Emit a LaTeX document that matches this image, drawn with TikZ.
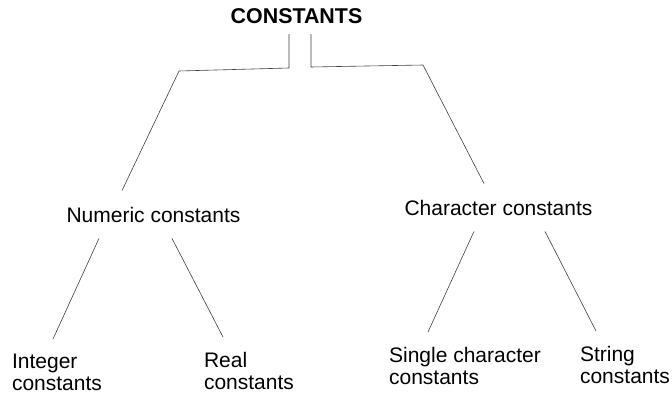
\documentclass[tikz,border=0pt]{standalone}
\usepackage{fontspec}
\setmainfont{Liberation Sans}
\usepackage{tikz}

\tikzset{
    head/.style={font=\bfseries\fontsize{21.4}{25}\selectfont, inner sep=0pt},
    cls/.style={font=\fontsize{21}{25}\selectfont, inner xsep=0pt, inner ysep=16pt},
    leaf/.style={font=\fontsize{21}{22}\selectfont, align=left, inner xsep=0pt, inner ysep=15pt},
    link/.style={draw=black!75, line width=0.6pt}
}

\begin{document}
\begin{tikzpicture}[x=1pt,y=-1pt]
            \useasboundingbox (0,0) rectangle (672,394);

            \node[head,anchor=base] (root) at (296.5, 23) {CONSTANTS};
            \node[cls,anchor=base] (num) at (153.5, 222) {Numeric constants};
            \node[cls,anchor=base] (char) at (498.5, 215) {Character constants};

            \node[leaf,anchor=north] (int) at (57, 339) {Integer\\constants};
            \node[leaf,anchor=north] (real) at (249, 337) {Real\\constants};
            \node[leaf,anchor=north] (single) at (465, 332) {Single character\\constants};
            \node[leaf,anchor=north] (string) at (625, 331) {String\\constants};

            \coordinate (lbend) at (179, 71);
            \coordinate (rbend) at (423, 65);

            \draw[link] ([xshift=-7.5pt,yshift=-11pt]root.base) -- ++(0, 34) -- (lbend) -- ([xshift=-31.5pt]num.north);
            \draw[link] ([xshift=14.5pt,yshift=-11pt]root.base) -- ++(0, 33) -- (rbend) -- ([xshift=-14.5pt]char.north);

            \draw[link] ([xshift=-54.5pt]num.south) -- ([xshift=-4pt]int.north)
            ([xshift=18.5pt]num.south) -- ([xshift=-26pt]real.north)
            ([xshift=-24.5pt]char.south) -- ([xshift=-37pt]single.north)
            ([xshift=46.5pt]char.south) -- ([xshift=-29pt]string.north);
        \end{tikzpicture}
\end{document}
